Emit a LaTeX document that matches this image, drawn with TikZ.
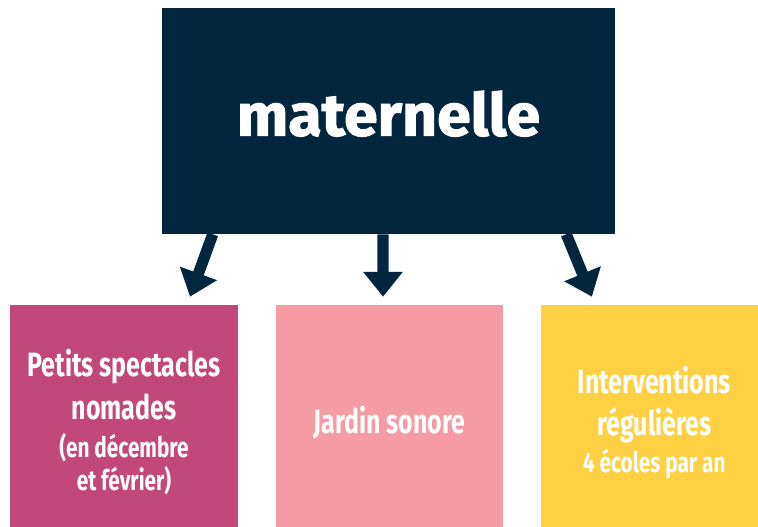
\documentclass[tikz,border=0pt]{standalone}
\usepackage{fontspec}
\setmainfont{Fira Sans}[FakeStretch=0.74]
\newfontfamily\titrefont{Fira Sans}[FakeStretch=1.03, BoldFeatures={FakeBold=1.8}]
\usetikzlibrary{arrows.meta}
\definecolor{marine}{HTML}{03263F}
\definecolor{framboise}{HTML}{C2477A}
\definecolor{rose}{HTML}{F49BA5}
\definecolor{soleil}{HTML}{FED044}
\newcommand{\petit}{\fontsize{20}{23.5}\selectfont}
\begin{document}
\begin{tikzpicture}
\tikzset{boite/.style={fill, inner sep=0pt, minimum height=5.55cm},
         texte/.style={text=white, align=center, inner sep=0pt, yshift=-0.16cm, font=\bfseries\fontsize{24}{30}\selectfont},
         fleche/.style={draw=marine, line width=0.28cm, -{Triangle[width=0.95cm, length=0.62cm]}}}
\useasboundingbox (0,0) rectangle (18.95,-13.175);
\node[boite, fill=marine, minimum width=11.325cm, minimum height=5.65cm, text=white, font=\titrefont\bfseries\fontsize{42}{46}\selectfont] (mat) at (9.7125,-3.025) {\raisebox{0.39cm}{maternelle}};
\node[boite, fill=framboise, minimum width=5.7cm, label={[texte]center:{Petits spectacles\\nomades\\[-3pt]{\petit(en décembre}\\[-6pt]{\petit et février)}}}] (nomades) at (3.1,-10.4) {};
\node[boite, fill=rose, minimum width=5.675cm, label={[texte]center:Jardin sonore}] (jardin) at (9.7375,-10.4) {};
\node[boite, fill=soleil, minimum width=5.425cm, label={[texte, xshift=0.12cm]center:{Interventions\\régulières\\[-4pt]{\petit 4 écoles par an}}}] (interv) at (16.2375,-10.4) {};
\draw[fleche] ([xshift=1.275cm]mat.south west) -- ([xshift=1.65cm, yshift=0.2cm]nomades.north);
\draw[fleche] ([xshift=-0.14cm]mat.south) -- ([xshift=-0.16cm, yshift=0.2cm]jardin.north);
\draw[fleche] ([xshift=-1.225cm]mat.south east) -- ([xshift=-1.44cm, yshift=0.2cm]interv.north);
\end{tikzpicture}
\end{document}
